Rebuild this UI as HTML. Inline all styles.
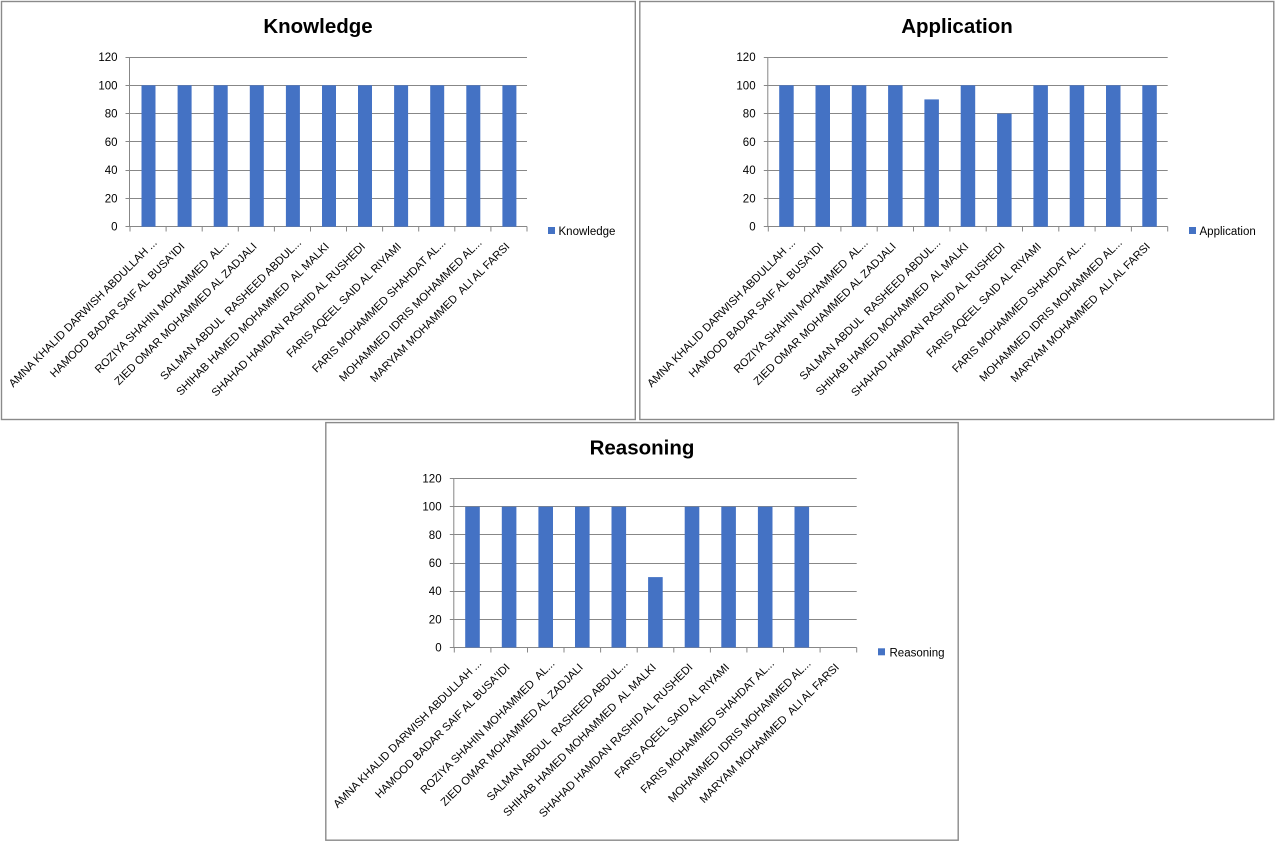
<!DOCTYPE html>
<html>
<head>
<meta charset="utf-8">
<style>
html,body{margin:0;padding:0;background:#fff;}
svg{display:block;}
.t{font-family:"Liberation Sans",Arial,sans-serif;font-weight:bold;font-size:20.5px;fill:#000;text-anchor:middle;}
.yl{font-family:"Liberation Sans",Arial,sans-serif;font-size:11.5px;fill:#000;text-anchor:end;}
.xl{font-family:"Liberation Sans",Arial,sans-serif;font-size:11.15px;fill:#000;text-anchor:end;white-space:pre;}
.lg{font-family:"Liberation Sans",Arial,sans-serif;font-size:11.5px;fill:#000;}
.g{stroke:#878787;stroke-width:1;fill:none;}
.b{fill:#4472C4;}
.box{fill:#fff;stroke:#8a8a8a;stroke-width:1.4;}
</style>
</head>
<body>
<svg width="1278" height="845" viewBox="0 0 1278 845" xmlns="http://www.w3.org/2000/svg">
<rect x="0" y="0" width="1278" height="845" fill="#fff"/>

<!-- ================= CHART 1: Knowledge ================= -->
<rect class="box" x="1.5" y="1.5" width="633.8" height="418"/>
<text class="t" x="318" y="33">Knowledge</text>
<g class="g">
<line x1="130" y1="57.5" x2="527" y2="57.5"/>
<line x1="130" y1="85.5" x2="527" y2="85.5"/>
<line x1="130" y1="113.5" x2="527" y2="113.5"/>
<line x1="130" y1="141.5" x2="527" y2="141.5"/>
<line x1="130" y1="170.5" x2="527" y2="170.5"/>
<line x1="130" y1="198.5" x2="527" y2="198.5"/>
<line x1="125.5" y1="226.5" x2="527" y2="226.5"/>
<line x1="129.5" y1="57" x2="129.5" y2="227"/>
<line x1="125.5" y1="57.5" x2="130" y2="57.5"/>
<line x1="125.5" y1="85.5" x2="130" y2="85.5"/>
<line x1="125.5" y1="113.5" x2="130" y2="113.5"/>
<line x1="125.5" y1="141.5" x2="130" y2="141.5"/>
<line x1="125.5" y1="170.5" x2="130" y2="170.5"/>
<line x1="125.5" y1="198.5" x2="130" y2="198.5"/>
<line x1="130" y1="226.5" x2="130" y2="231.5"/>
<line x1="166.1" y1="226.5" x2="166.1" y2="231.5"/>
<line x1="202.2" y1="226.5" x2="202.2" y2="231.5"/>
<line x1="238.3" y1="226.5" x2="238.3" y2="231.5"/>
<line x1="274.4" y1="226.5" x2="274.4" y2="231.5"/>
<line x1="310.5" y1="226.5" x2="310.5" y2="231.5"/>
<line x1="346.5" y1="226.5" x2="346.5" y2="231.5"/>
<line x1="382.6" y1="226.5" x2="382.6" y2="231.5"/>
<line x1="418.7" y1="226.5" x2="418.7" y2="231.5"/>
<line x1="454.8" y1="226.5" x2="454.8" y2="231.5"/>
<line x1="490.9" y1="226.5" x2="490.9" y2="231.5"/>
<line x1="527" y1="226.5" x2="527" y2="231.5"/>
</g>
<g class="b">
<rect x="141.5" y="85.3" width="14" height="141.4"/>
<rect x="177.6" y="85.3" width="14" height="141.4"/>
<rect x="213.7" y="85.3" width="14" height="141.4"/>
<rect x="249.8" y="85.3" width="14" height="141.4"/>
<rect x="285.9" y="85.3" width="14" height="141.4"/>
<rect x="322" y="85.3" width="14" height="141.4"/>
<rect x="358" y="85.3" width="14" height="141.4"/>
<rect x="394.1" y="85.3" width="14" height="141.4"/>
<rect x="430.2" y="85.3" width="14" height="141.4"/>
<rect x="466.3" y="85.3" width="14" height="141.4"/>
<rect x="502.4" y="85.3" width="14" height="141.4"/>
</g>
<text class="yl" x="117.5" y="61">120</text>
<text class="yl" x="117.5" y="89.3">100</text>
<text class="yl" x="117.5" y="117.6">80</text>
<text class="yl" x="117.5" y="145.9">60</text>
<text class="yl" x="117.5" y="174.1">40</text>
<text class="yl" x="117.5" y="202.4">20</text>
<text class="yl" x="117.5" y="230.7">0</text>
<text class="xl" x="157.6" y="243.4" transform="rotate(-45 157.6 243.4)">AMNA KHALID DARWISH ABDULLAH ...</text>
<text class="xl" x="185.3" y="247.2" transform="rotate(-45 185.3 247.2)">HAMOOD BADAR SAIF AL BUSA'IDI</text>
<text class="xl" x="229.7" y="243.4" transform="rotate(-45 229.7 243.4)">ROZIYA SHAHIN MOHAMMED  AL...</text>
<text class="xl" x="257.5" y="247.2" transform="rotate(-45 257.5 247.2)">ZIED OMAR MOHAMMED AL ZADJALI</text>
<text class="xl" x="301.9" y="243.4" transform="rotate(-45 301.9 243.4)">SALMAN ABDUL  RASHEED ABDUL...</text>
<text class="xl" x="329.7" y="247.2" transform="rotate(-45 329.7 247.2)">SHIHAB HAMED MOHAMMED  AL MALKI</text>
<text class="xl" x="365.8" y="247.2" transform="rotate(-45 365.8 247.2)">SHAHAD HAMDAN RASHID AL RUSHEDI</text>
<text class="xl" x="401.9" y="247.2" transform="rotate(-45 401.9 247.2)">FARIS AQEEL SAID AL RIYAMI</text>
<text class="xl" x="446.3" y="243.4" transform="rotate(-45 446.3 243.4)">FARIS MOHAMMED SHAHDAT AL...</text>
<text class="xl" x="482.4" y="243.4" transform="rotate(-45 482.4 243.4)">MOHAMMED IDRIS MOHAMMED AL...</text>
<text class="xl" x="510.2" y="247.2" transform="rotate(-45 510.2 247.2)">MARYAM MOHAMMED  ALI AL FARSI</text>
<rect class="b" x="548" y="227" width="7" height="7"/>
<text class="lg" x="558.5" y="235">Knowledge</text>

<!-- ================= CHART 2: Application ================= -->
<rect class="box" x="639.8" y="1.5" width="634" height="418"/>
<text class="t" x="957" y="33">Application</text>
<g class="g">
<line x1="768.3" y1="57.5" x2="1167.7" y2="57.5"/>
<line x1="768.3" y1="85.5" x2="1167.7" y2="85.5"/>
<line x1="768.3" y1="113.5" x2="1167.7" y2="113.5"/>
<line x1="768.3" y1="141.5" x2="1167.7" y2="141.5"/>
<line x1="768.3" y1="170.5" x2="1167.7" y2="170.5"/>
<line x1="768.3" y1="198.5" x2="1167.7" y2="198.5"/>
<line x1="763.8" y1="226.5" x2="1167.7" y2="226.5"/>
<line x1="767.8" y1="57" x2="767.8" y2="227"/>
<line x1="763.8" y1="57.5" x2="768.3" y2="57.5"/>
<line x1="763.8" y1="85.5" x2="768.3" y2="85.5"/>
<line x1="763.8" y1="113.5" x2="768.3" y2="113.5"/>
<line x1="763.8" y1="141.5" x2="768.3" y2="141.5"/>
<line x1="763.8" y1="170.5" x2="768.3" y2="170.5"/>
<line x1="763.8" y1="198.5" x2="768.3" y2="198.5"/>
<line x1="768.3" y1="226.5" x2="768.3" y2="231.5"/>
<line x1="804.6" y1="226.5" x2="804.6" y2="231.5"/>
<line x1="840.9" y1="226.5" x2="840.9" y2="231.5"/>
<line x1="877.2" y1="226.5" x2="877.2" y2="231.5"/>
<line x1="913.5" y1="226.5" x2="913.5" y2="231.5"/>
<line x1="949.9" y1="226.5" x2="949.9" y2="231.5"/>
<line x1="986.2" y1="226.5" x2="986.2" y2="231.5"/>
<line x1="1022.5" y1="226.5" x2="1022.5" y2="231.5"/>
<line x1="1058.8" y1="226.5" x2="1058.8" y2="231.5"/>
<line x1="1095.1" y1="226.5" x2="1095.1" y2="231.5"/>
<line x1="1131.4" y1="226.5" x2="1131.4" y2="231.5"/>
<line x1="1167.7" y1="226.5" x2="1167.7" y2="231.5"/>
</g>
<g class="b">
<rect x="779.2" y="85.3" width="14.5" height="141.4"/>
<rect x="815.5" y="85.3" width="14.5" height="141.4"/>
<rect x="851.8" y="85.3" width="14.5" height="141.4"/>
<rect x="888.1" y="85.3" width="14.5" height="141.4"/>
<rect x="924.4" y="99.4" width="14.5" height="127.3"/>
<rect x="960.7" y="85.3" width="14.5" height="141.4"/>
<rect x="997.1" y="113.6" width="14.5" height="113.1"/>
<rect x="1033.4" y="85.3" width="14.5" height="141.4"/>
<rect x="1069.7" y="85.3" width="14.5" height="141.4"/>
<rect x="1106" y="85.3" width="14.5" height="141.4"/>
<rect x="1142.3" y="85.3" width="14.5" height="141.4"/>
</g>
<text class="yl" x="755.6" y="61">120</text>
<text class="yl" x="755.6" y="89.3">100</text>
<text class="yl" x="755.6" y="117.6">80</text>
<text class="yl" x="755.6" y="145.9">60</text>
<text class="yl" x="755.6" y="174.1">40</text>
<text class="yl" x="755.6" y="202.4">20</text>
<text class="yl" x="755.6" y="230.7">0</text>
<text class="xl" x="796" y="243.4" transform="rotate(-45 796 243.4)">AMNA KHALID DARWISH ABDULLAH ...</text>
<text class="xl" x="824" y="247.2" transform="rotate(-45 824 247.2)">HAMOOD BADAR SAIF AL BUSA'IDI</text>
<text class="xl" x="868.6" y="243.4" transform="rotate(-45 868.6 243.4)">ROZIYA SHAHIN MOHAMMED  AL...</text>
<text class="xl" x="896.6" y="247.2" transform="rotate(-45 896.6 247.2)">ZIED OMAR MOHAMMED AL ZADJALI</text>
<text class="xl" x="941.2" y="243.4" transform="rotate(-45 941.2 243.4)">SALMAN ABDUL  RASHEED ABDUL...</text>
<text class="xl" x="969.2" y="247.2" transform="rotate(-45 969.2 247.2)">SHIHAB HAMED MOHAMMED  AL MALKI</text>
<text class="xl" x="1005.5" y="247.2" transform="rotate(-45 1005.5 247.2)">SHAHAD HAMDAN RASHID AL RUSHEDI</text>
<text class="xl" x="1041.8" y="247.2" transform="rotate(-45 1041.8 247.2)">FARIS AQEEL SAID AL RIYAMI</text>
<text class="xl" x="1086.4" y="243.4" transform="rotate(-45 1086.4 243.4)">FARIS MOHAMMED SHAHDAT AL...</text>
<text class="xl" x="1122.7" y="243.4" transform="rotate(-45 1122.7 243.4)">MOHAMMED IDRIS MOHAMMED AL...</text>
<text class="xl" x="1150.7" y="247.2" transform="rotate(-45 1150.7 247.2)">MARYAM MOHAMMED  ALI AL FARSI</text>
<rect class="b" x="1189" y="227" width="7" height="7"/>
<text class="lg" x="1199.5" y="235">Application</text>

<!-- ================= CHART 3: Reasoning ================= -->
<rect class="box" x="325.8" y="422.6" width="632.4" height="417.6"/>
<text class="t" x="642" y="454.5">Reasoning</text>
<g class="g">
<line x1="454.3" y1="478.5" x2="856.7" y2="478.5"/>
<line x1="454.3" y1="506.5" x2="856.7" y2="506.5"/>
<line x1="454.3" y1="534.5" x2="856.7" y2="534.5"/>
<line x1="454.3" y1="563.5" x2="856.7" y2="563.5"/>
<line x1="454.3" y1="591.5" x2="856.7" y2="591.5"/>
<line x1="454.3" y1="619.5" x2="856.7" y2="619.5"/>
<line x1="449.8" y1="647.5" x2="856.7" y2="647.5"/>
<line x1="453.8" y1="478" x2="453.8" y2="648"/>
<line x1="449.8" y1="478.5" x2="454.3" y2="478.5"/>
<line x1="449.8" y1="506.5" x2="454.3" y2="506.5"/>
<line x1="449.8" y1="534.5" x2="454.3" y2="534.5"/>
<line x1="449.8" y1="563.5" x2="454.3" y2="563.5"/>
<line x1="449.8" y1="591.5" x2="454.3" y2="591.5"/>
<line x1="449.8" y1="619.5" x2="454.3" y2="619.5"/>
<line x1="454.3" y1="647.5" x2="454.3" y2="652.5"/>
<line x1="490.9" y1="647.5" x2="490.9" y2="652.5"/>
<line x1="527.5" y1="647.5" x2="527.5" y2="652.5"/>
<line x1="564" y1="647.5" x2="564" y2="652.5"/>
<line x1="600.6" y1="647.5" x2="600.6" y2="652.5"/>
<line x1="637.2" y1="647.5" x2="637.2" y2="652.5"/>
<line x1="673.8" y1="647.5" x2="673.8" y2="652.5"/>
<line x1="710.4" y1="647.5" x2="710.4" y2="652.5"/>
<line x1="746.9" y1="647.5" x2="746.9" y2="652.5"/>
<line x1="783.5" y1="647.5" x2="783.5" y2="652.5"/>
<line x1="820.1" y1="647.5" x2="820.1" y2="652.5"/>
<line x1="856.7" y1="647.5" x2="856.7" y2="652.5"/>
</g>
<g class="b">
<rect x="465.2" y="506.7" width="14.6" height="140.8"/>
<rect x="501.8" y="506.7" width="14.6" height="140.8"/>
<rect x="538.4" y="506.7" width="14.6" height="140.8"/>
<rect x="575" y="506.7" width="14.6" height="140.8"/>
<rect x="611.5" y="506.7" width="14.6" height="140.8"/>
<rect x="648.1" y="577.1" width="14.6" height="70.4"/>
<rect x="684.7" y="506.7" width="14.6" height="140.8"/>
<rect x="721.3" y="506.7" width="14.6" height="140.8"/>
<rect x="757.9" y="506.7" width="14.6" height="140.8"/>
<rect x="794.5" y="506.7" width="14.6" height="140.8"/>
</g>
<text class="yl" x="441.6" y="482.5">120</text>
<text class="yl" x="441.6" y="510.7">100</text>
<text class="yl" x="441.6" y="538.8">80</text>
<text class="yl" x="441.6" y="567">60</text>
<text class="yl" x="441.6" y="595.2">40</text>
<text class="yl" x="441.6" y="623.3">20</text>
<text class="yl" x="441.6" y="651.5">0</text>
<text class="xl" x="482.1" y="664.2" transform="rotate(-45 482.1 664.2)">AMNA KHALID DARWISH ABDULLAH ...</text>
<text class="xl" x="510.4" y="668" transform="rotate(-45 510.4 668)">HAMOOD BADAR SAIF AL BUSA'IDI</text>
<text class="xl" x="555.3" y="664.2" transform="rotate(-45 555.3 664.2)">ROZIYA SHAHIN MOHAMMED  AL...</text>
<text class="xl" x="583.6" y="668" transform="rotate(-45 583.6 668)">ZIED OMAR MOHAMMED AL ZADJALI</text>
<text class="xl" x="628.4" y="664.2" transform="rotate(-45 628.4 664.2)">SALMAN ABDUL  RASHEED ABDUL...</text>
<text class="xl" x="656.7" y="668" transform="rotate(-45 656.7 668)">SHIHAB HAMED MOHAMMED  AL MALKI</text>
<text class="xl" x="693.3" y="668" transform="rotate(-45 693.3 668)">SHAHAD HAMDAN RASHID AL RUSHEDI</text>
<text class="xl" x="729.9" y="668" transform="rotate(-45 729.9 668)">FARIS AQEEL SAID AL RIYAMI</text>
<text class="xl" x="774.8" y="664.2" transform="rotate(-45 774.8 664.2)">FARIS MOHAMMED SHAHDAT AL...</text>
<text class="xl" x="811.4" y="664.2" transform="rotate(-45 811.4 664.2)">MOHAMMED IDRIS MOHAMMED AL...</text>
<text class="xl" x="839.7" y="668" transform="rotate(-45 839.7 668)">MARYAM MOHAMMED  ALI AL FARSI</text>
<rect class="b" x="878" y="648.3" width="7" height="7"/>
<text class="lg" x="889.5" y="656.3">Reasoning</text>
</svg>
</body>
</html>
